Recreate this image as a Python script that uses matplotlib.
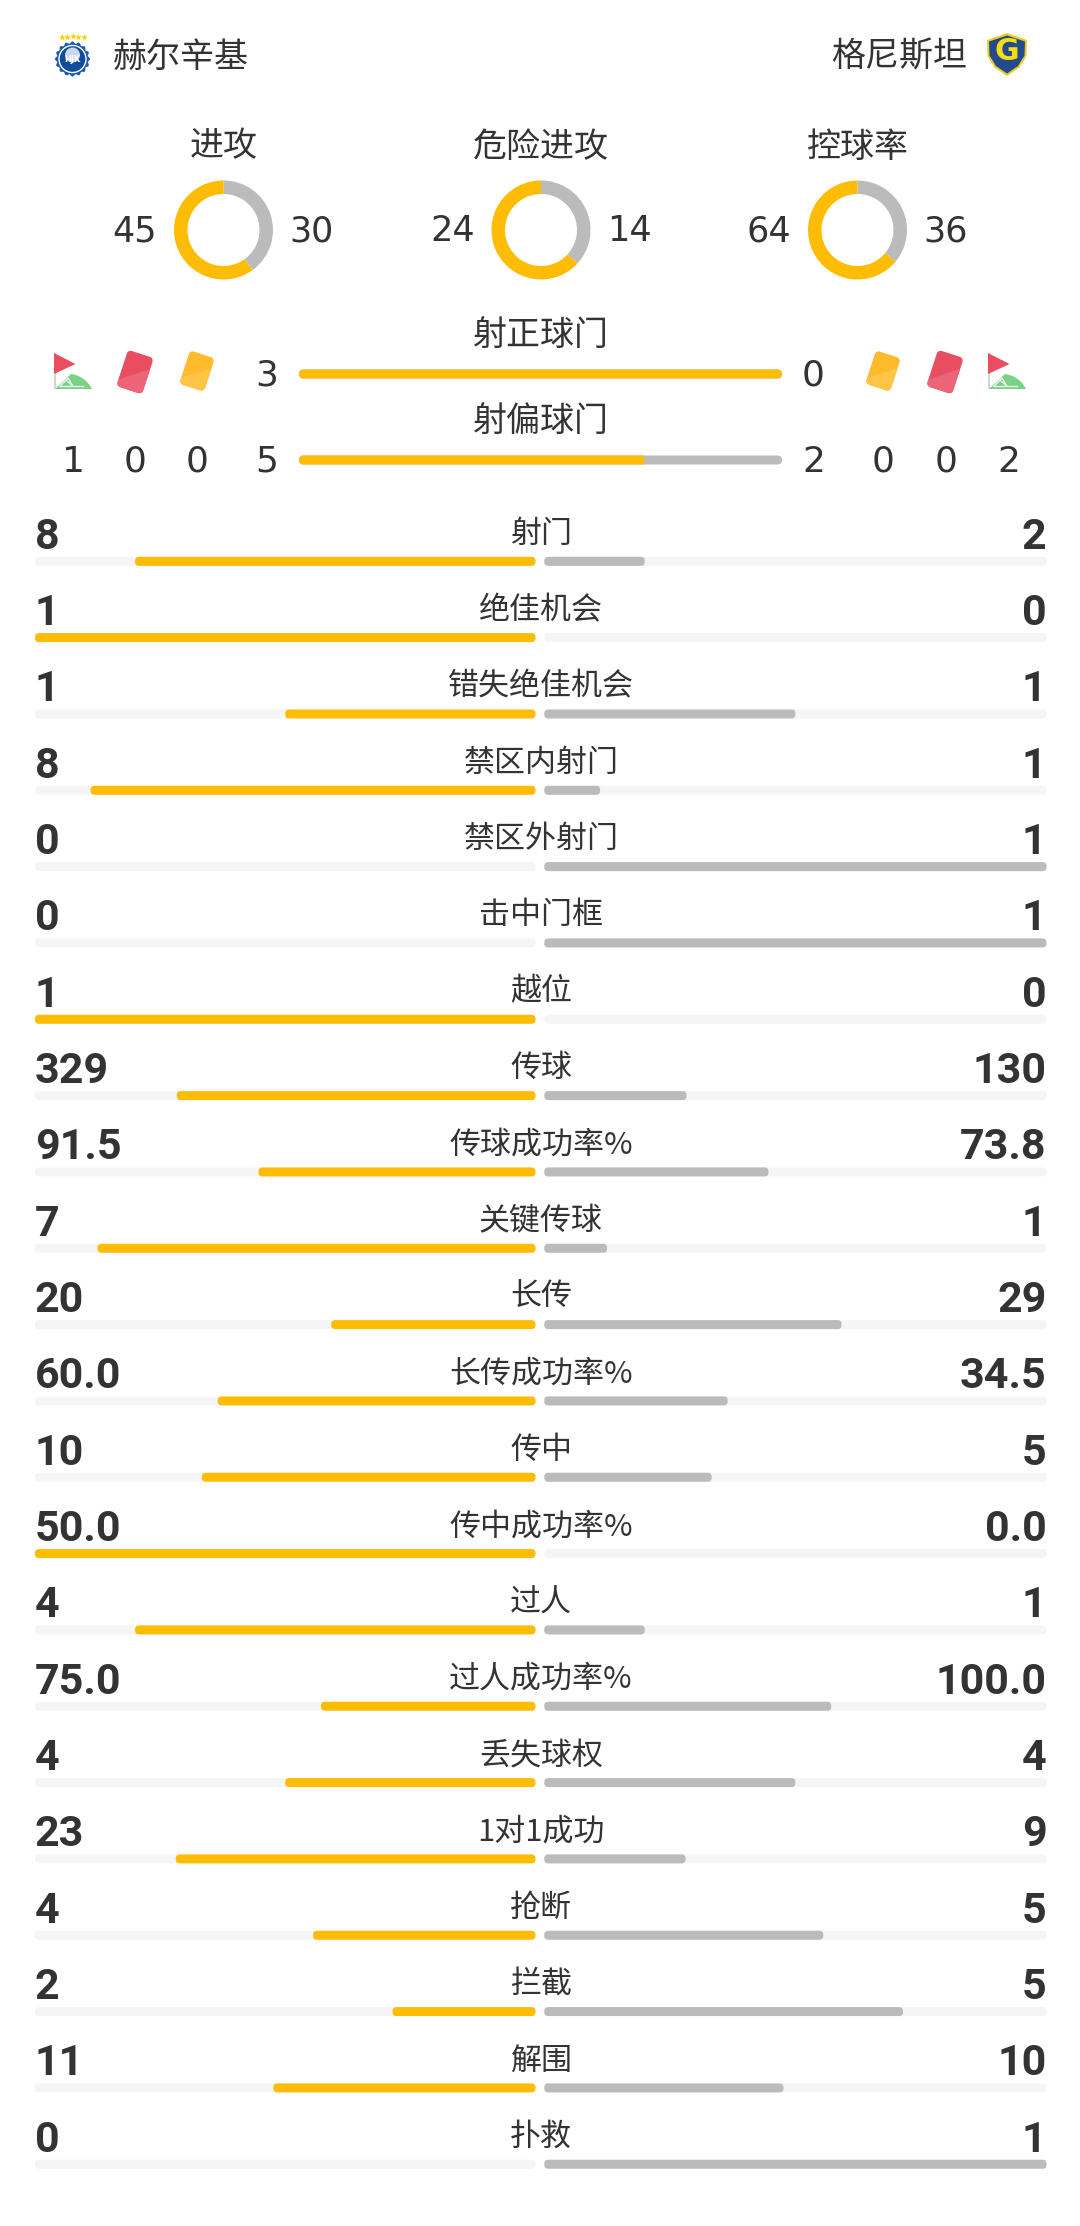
import numpy as np
import matplotlib
matplotlib.use("Agg")
import matplotlib.pyplot as plt
from matplotlib.patches import FancyBboxPatch, Polygon, Circle, Rectangle
from matplotlib.transforms import Affine2D

team_left = "赫尔辛基"
team_right = "格尼斯坦"

donut_titles = ["进攻", "危险进攻", "控球率"]
donut_left = [45, 24, 64]
donut_right = [30, 14, 36]

shot_titles = ["射正球门", "射偏球门"]
shot_left = [3, 5]
shot_right = [0, 2]
corner_counts_left = ["", "1"]
red_counts_left = ["", "0"]
yellow_counts_left = ["", "0"]
yellow_counts_right = ["", "0"]
red_counts_right = ["", "0"]
corner_counts_right = ["", "2"]

stat_labels = ["射门", "绝佳机会", "错失绝佳机会", "禁区内射门", "禁区外射门", "击中门框", "越位",
               "传球", "传球成功率%", "关键传球", "长传", "长传成功率%", "传中", "传中成功率%",
               "过人", "过人成功率%", "丢失球权", "1对1成功", "抢断", "拦截", "解围", "扑救"]
stat_left = ["8", "1", "1", "8", "0", "0", "1", "329", "91.5", "7", "20", "60.0", "10", "50.0",
             "4", "75.0", "4", "23", "4", "2", "11", "0"]
stat_right = ["2", "0", "1", "1", "1", "1", "0", "130", "73.8", "1", "29", "34.5", "5", "0.0",
              "1", "100.0", "4", "9", "5", "5", "10", "1"]

GOLD = "#FFBC05"
GREY = "#BBBBBB"
TRACK = "#F5F5F5"
INK = "#333333"
CJK = ["Noto Sans CJK SC", "DejaVu Sans"]
DJ = ["DejaVu Sans"]
PX = 0.72

W, H = 1080, 2226
fig = plt.figure(figsize=(W / 100, H / 100), dpi=100, facecolor="white")
ax = fig.add_axes([0, 0, 1, 1])
ax.set_xlim(0, W)
ax.set_ylim(H, 0)
ax.axis("off")


def label(x, y, s, px, family=CJK, weight="normal", ha="center", color=INK):
    ax.text(x, y, s, fontsize=px * PX, family=family, weight=weight, ha=ha, va="center",
            color=color)


def rounded(x0, x1, yc, h, color, r=4, clip=None, z=2):
    p = FancyBboxPatch((x0, yc - h / 2), x1 - x0, h, boxstyle=f"round,pad=0,rounding_size={r}",
                       fc=color, ec="none", zorder=z)
    ax.add_patch(p)
    if clip is not None:
        p.set_clip_path(clip)
    return p


# ---- header
label(181, 57, team_left, 34)
label(899.5, 57, team_right, 34)

# left badge
th = np.linspace(0, 2 * np.pi, 145)
rs = 16.6 + 1.0 * np.cos(th * 16)
ax.add_patch(Polygon(np.c_[72.5 + rs * np.sin(th), 59 + rs * np.cos(th)], fc="#1D5BA8", ec="none"))
ax.add_patch(Circle((72.5, 59), 14.2, fc="white", ec="none"))
ax.add_patch(Circle((72.5, 59), 12.8, fc="#0F4C9C", ec="none"))
ax.add_patch(Circle((72.5, 55), 7.5, fc="#C9D8EC", ec="none"))
ax.text(72.5, 60, "HJK", fontsize=6, color="white", ha="center", va="center", weight="bold")
ax.scatter(np.linspace(61.5, 84, 5), [37, 36.5, 36, 36.5, 37], marker="*", s=28, c="#F8D000", lw=0)

# right badge
shield = np.array([[1007, 33], [1027, 40], [1026.5, 56], [1019.5, 67.5], [1007, 76], [994.5, 67.5], [987.5, 56], [987, 40]])
ax.add_patch(Polygon(shield, closed=True, fc="#E8CF22", ec="none", joinstyle="round"))
inner = np.array([[1007, 35.5], [1025, 41.5], [1024.5, 55.5], [1018, 66], [1007, 73.5], [996, 66], [989.5, 55.5], [989, 41.5]])
ax.add_patch(Polygon(inner, closed=True, fc="#234A8C", ec="none"))
label(1006.5, 52, "G", 30, family=DJ, weight="bold", color="#F6DD12")

# ---- donuts
for cx, title, a, b in zip([223.5, 541, 857.5], donut_titles, donut_left, donut_right):
    label(cx, 147, title, 34)
    label(cx - 88.5, 231, str(a), 35, family=DJ)
    label(cx + 88.5, 231, str(b), 35, family=DJ)
    R = 49.5
    iax = fig.add_axes([(cx - R) / W, 1 - (230 + R) / H, 2 * R / W, 2 * R / H])
    iax.pie([b, a], colors=[GREY, GOLD], startangle=90, counterclock=False, radius=1,
            wedgeprops=dict(width=13.5 / R, linewidth=0))
    iax.set_xlim(-1, 1)
    iax.set_ylim(-1, 1)

# ---- on/off target bars
BAR0, BAR1 = 299, 782
for yt, yb, title, a, b in zip([335, 421], [374, 460], shot_titles, shot_left, shot_right):
    label(541, yt, title, 34)
    label(267, yb + 1.5, str(a), 36, family=DJ)
    label(813.5, yb + 1.5, str(b), 36, family=DJ)
    rounded(BAR0, BAR1, yb, 9, GREY, r=4.5)
    xm = BAR0 + (BAR1 - BAR0) * a / (a + b)
    clip = Rectangle((BAR0, yb - 6), xm - BAR0, 12, transform=ax.transData)
    rounded(BAR0, BAR1, yb, 9, GOLD, r=4.5, clip=clip, z=3)

# small counts below the icons
for x, vals in zip([73, 135.5, 197.5, 883.5, 946.5, 1008.5],
                   [corner_counts_left, red_counts_left, yellow_counts_left,
                    yellow_counts_right, red_counts_right, corner_counts_right]):
    label(x, 461.5, vals[1], 36, family=DJ)


# ---- icons
def card(cx, cy, w, h, c1, c2):
    tr = Affine2D().rotate_deg(18).translate(cx, cy) + ax.transData
    base = FancyBboxPatch((-w / 2, -h / 2), w, h, boxstyle="round,pad=0,rounding_size=4.5",
                          fc=c1, ec="none", transform=tr, zorder=3)
    ax.add_patch(base)
    light = Polygon([[-w / 2 - 1, h * 0.34], [w / 2 + 1, -h * 0.22], [w / 2 + 1, h / 2 + 1], [-w / 2 - 1, h / 2 + 1]],
                    fc=c2, ec="none", transform=tr, zorder=4)
    ax.add_patch(light)
    light.set_clip_path(base)


def flag(x):
    ax.add_patch(Rectangle((x, 353), 2.2, 36, fc="#D5D5D5", ec="none", zorder=3))
    ax.add_patch(Polygon([[x, 353], [x + 21.5, 364], [x, 374]], fc="#EA4C60", ec="none", zorder=4))
    s = np.linspace(0, 1, 24)[:, None]
    p0, p1, p2 = np.array([x + 17, 374]), np.array([x + 31, 376]), np.array([x + 38, 389])
    curve = (1 - s) ** 2 * p0 + 2 * s * (1 - s) * p1 + s ** 2 * p2
    pts = np.vstack([[x + 1, 389], curve])
    ax.add_patch(Polygon(pts, fc="#79D286", ec="none", zorder=4))
    ax.plot([x + 6, x + 29], [386.2, 386.2], color="#E8F7EA", lw=1.0, zorder=5)
    ax.plot([x + 6, x + 14, x + 19, x + 13], [386.2, 378, 386.2, 381], color="#E8F7EA", lw=1.0, zorder=5)


flag(54)
flag(988)
card(135, 372, 27, 38, "#EA4C60", "#EC6478")
card(945, 372, 27, 38, "#EA4C60", "#EC6478")
card(197, 371, 26, 35, "#FFBB2B", "#FFC547")
card(883, 371, 26, 35, "#FFBB2B", "#FFC547")

# ---- stat rows
L0, L1, R0, R1 = 35, 535.5, 544.3, 1046.5
Y0, DY = 561.3, 76.33
for i, (name, a, b) in enumerate(zip(stat_labels, stat_left, stat_right)):
    y = Y0 + DY * i
    va, vb = float(a), float(b)
    fa = va / (va + vb)
    fb = vb / (va + vb)
    rounded(L0, L1, y, 9, TRACK, r=4)
    rounded(R0, R1, y, 9, TRACK, r=4)
    if fa > 0:
        rounded(L1 - (L1 - L0) * fa, L1, y, 9, GOLD, r=4, z=3)
    if fb > 0:
        rounded(R0, R0 + (R1 - R0) * fb, y, 9, GREY, r=4, z=3)
    label(541, y - 27, name, 31)
    label(L0, y - 24, a, 43, family=["Roboto"], weight="bold", ha="left")
    label(R1, y - 24, b, 43, family=["Roboto"], weight="bold", ha="right")

fig.savefig("out.png", dpi=100, facecolor="white")
